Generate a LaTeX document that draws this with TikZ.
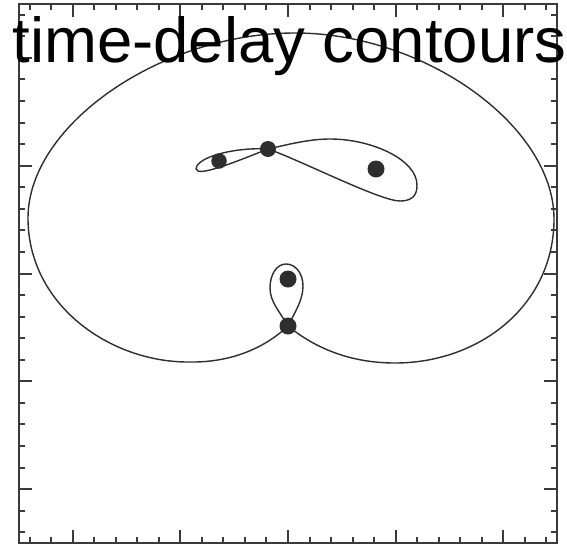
\documentclass[tikz,border=0pt]{standalone}
\usepackage{fontspec}
\setmainfont{Liberation Sans}
\definecolor{ink}{HTML}{2E2E2E}
\definecolor{framec}{HTML}{3A3A3A}
\tikzset{
  curve/.style={draw=ink, line width=1.4pt},
  framebox/.style={draw=framec, line width=2pt},
  tickline/.style={draw=framec, line width=2pt},
  dot/.style={circle, fill=ink, inner sep=0pt, minimum size=#1},
  dot/.default=16pt,
  title/.style={font=\fontsize{63.5}{70}\selectfont, inner sep=0pt, anchor=base, text=black}
}
\begin{document}
\begin{tikzpicture}[x=1pt, y=-1pt]
\useasboundingbox (0,0) rectangle (567,544);
\fill[white] (0,0) rectangle (567,544);
% frame
\draw[framebox] (19,4) rectangle (557,543);
% ticks
\foreach \k in {0,...,24} {
  \pgfmathsetmacro\xx{19+(\k+0.5)*21.52}
  \pgfmathsetmacro\yy{4+(\k+0.5)*21.56}
  \pgfmathsetmacro\len{mod(\k,5)==2 ? 13 : 6}
  \draw[tickline] (\xx,543) -- ++(0,-\len);
  \draw[tickline] (\xx,4) -- ++(0,\len);
  \draw[tickline] (19,\yy) -- ++(\len,0);
  \draw[tickline] (557,\yy) -- ++(-\len,0);
}
% key points
\coordinate (S) at (288,326);
\coordinate (LB) at (188,362);
\coordinate (LE) at (28,218);
\coordinate (TOP) at (295,33);
\coordinate (RE) at (554,219);
\coordinate (RB) at (395,363);
\coordinate (X) at (268,149);
% outer contour
\draw[curve] (S) .. controls (268,345) and (235,363) .. (LB)
  .. controls (110,362) and (28,305) .. (LE)
  .. controls (28,125) and (161,33) .. (TOP)
  .. controls (425,33) and (554,126) .. (RE)
  .. controls (554,305) and (480,363) .. (RB)
  .. controls (350,363) and (315,348) .. (S);
% small loop above saddle
\draw[curve] (S) .. controls (280,312) and (270,302) .. (270,288)
  .. controls (270,274) and (277,264) .. (286,264)
  .. controls (296,264) and (303,274) .. (303,286)
  .. controls (303,300) and (295,312) .. (S);
% upper figure-eight
\draw[curve] (X) .. controls (290,144) and (310,139) .. (330,139)
  .. controls (372,139) and (418,160) .. (417,186)
  .. controls (417,197) and (410,201) .. (400,201)
  .. controls (380,201) and (300,160) .. (X)
  .. controls (238,147) and (197,156) .. (196,169)
  .. controls (197,178) and (240,160) .. (X);
% dots
\node[dot=15.5pt] (d1) at (219,161) {};
\node[dot=16pt] (d2) at (X) {};
\node[dot=17pt] (d3) at (376,169) {};
\node[dot=17pt] (d4) at (288,279) {};
\node[dot=17pt] (d5) at (S) {};
% title
\node[title] (t) at (289.5,62) {time-delay contours};
\end{tikzpicture}
\end{document}
